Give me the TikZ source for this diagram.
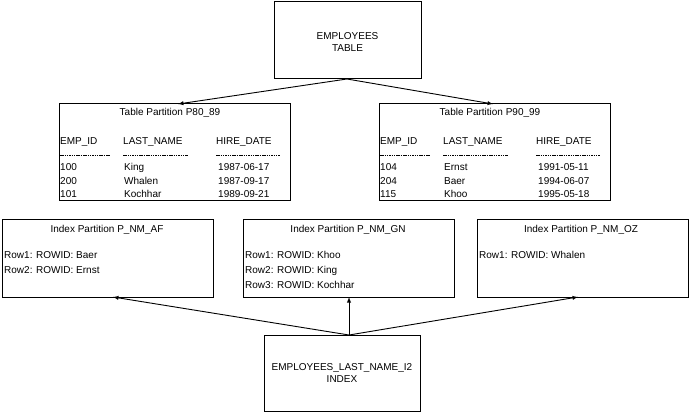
\documentclass[tikz,border=0pt]{standalone}
\usepackage{fontspec}
\setmainfont{Liberation Sans}
\begin{document}
\begin{tikzpicture}[x=1pt,y=-1pt,
  box/.style={draw,line width=1pt},
  txt/.style={inner sep=0pt,anchor=base west,font=\fontsize{10}{12}\selectfont},
  ctr/.style={inner sep=0pt,anchor=base,font=\fontsize{10}{12}\selectfont},
  arr/.style={-latex,line width=0.9pt},
  dsh/.style={line width=0.5pt,dash pattern=on 1.5pt off 0.8pt}]
\useasboundingbox (0,0) rectangle (690,414);
\fill[white] (0,0) rectangle (690,414);
% top
\draw[box] (274,2) rectangle (421,79);
\node[ctr,align=center,anchor=center] (emp) at (347.5,42) {EMPLOYEES\\TABLE};
\coordinate (empb) at (347,79);
% tables
\foreach \dx/\nm/\t/\ra/\rb/\rc/\na/\nb/\nc/\da/\db/\dc in {0/P80\_89/tl/100/200/101/King/Whalen/Kochhar/1987-06-17/1987-09-17/1989-09-21,320/P90\_99/tr/104/204/115/Ernst/Baer/Khoo/1991-05-11/1994-06-07/1995-05-18}{
  \begin{scope}[xshift=\dx]
  \draw[box] (59,104) rectangle (290,200);
  \coordinate (\t) at (178,104);
  \node[ctr] at (170,116) {Table Partition \nm};
  \node[txt] at (60,145) {EMP\_ID};
  \node[txt] at (123,145) {LAST\_NAME};
  \node[txt] at (216,145) {HIRE\_DATE};
  \draw[dsh] (60,155) -- (110,155);
  \draw[dsh] (123,155) -- (188,155);
  \draw[dsh] (216,155) -- (280,155);
  \node[txt] at (60,171) {\ra};\node[txt] at (124,171) {\na};\node[txt] at (218,171) {\da};
  \node[txt] at (60,184) {\rb};\node[txt] at (124,184) {\nb};\node[txt] at (218,184) {\db};
  \node[txt] at (60,197) {\rc};\node[txt] at (124,197) {\nc};\node[txt] at (218,197) {\dc};
  \end{scope}}
\draw[arr] (empb) -- (tl);
\draw[arr] (empb) -- ([xshift=315]tl);
% index partitions
\draw[box] (2,219) rectangle (213,297);
\node[ctr] at (107,232) {Index Partition P\_NM\_AF};
\node[txt] at (4,258) {Row1: ROWID: Baer};
\node[txt] at (4,273) {Row2: ROWID: Ernst};
\coordinate (ia) at (113,297);
\draw[box] (243,219) rectangle (454,297);
\node[ctr] at (348,232) {Index Partition P\_NM\_GN};
\node[txt] at (245,258) {Row1: ROWID: Khoo};
\node[txt] at (245,273) {Row2: ROWID: King};
\node[txt] at (245,288) {Row3: ROWID: Kochhar};
\coordinate (ib) at (349,297);
\draw[box] (477,219) rectangle (688,297);
\node[ctr] at (581,232) {Index Partition P\_NM\_OZ};
\node[txt] at (479,258) {Row1: ROWID: Whalen};
\coordinate (ic) at (578,297);
% bottom
\draw[box] (264,335) rectangle (420,411);
\node[ctr,align=center,anchor=center] (idx) at (342,373) {EMPLOYEES\_LAST\_NAME\_I2\\INDEX};
\coordinate (idxt) at (349,335);
\draw[arr] (idxt) -- (ia);
\draw[arr] (idxt) -- (ib);
\draw[arr] (idxt) -- (ic);
\end{tikzpicture}
\end{document}
